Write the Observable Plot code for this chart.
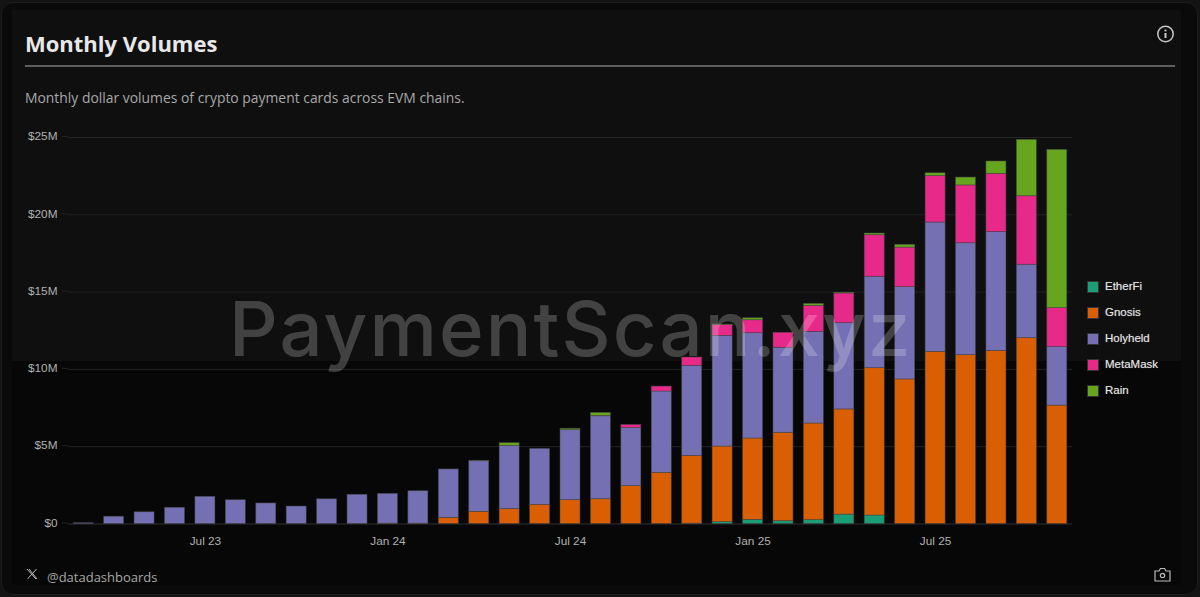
<!DOCTYPE html>
<html><head><meta charset="utf-8">
<script src="https://cdn.jsdelivr.net/npm/d3@7"></script>
<script src="https://cdn.jsdelivr.net/npm/@observablehq/plot@0.6"></script>
<style>
html,body{margin:0;padding:0;background:#131313;width:1200px;height:597px;overflow:hidden}
#card{position:absolute;left:0;top:0;width:1200px;height:597px;overflow:hidden}
.abs{position:absolute}
#shell{left:1px;top:2px;width:1197px;height:593px;background:#0a0a0a;border-radius:12px;border:1px solid #1d1d1d;box-sizing:border-box}
#upper{left:12px;top:10px;width:1169px;height:351px;background:#0f0f10}
#lower{left:12px;top:361px;width:1169px;height:224px;background:#070707}
#title{left:25px;top:28px;font:700 22px "Open Sans",sans-serif;color:#e8e8e8;white-space:nowrap}
#rule{left:25px;top:65px;width:1150px;height:2px;background:#5e5e5e}
#sub{left:25px;top:88px;font:400 13.9px "Open Sans",sans-serif;color:#a8a8a8;white-space:nowrap}
#chart{left:0;top:0}
#mark{left:229px;top:282px;font:500 76px Inter,sans-serif;letter-spacing:2.1px;color:#fff;opacity:.21;white-space:nowrap;pointer-events:none}
#legend{left:1087px;top:280px;font:11.5px "Liberation Sans",sans-serif;color:#e4e4e4;text-shadow:0 0 1px #777}
#legend div{height:26px;line-height:13px;display:flex;align-items:flex-start;white-space:nowrap}
#legend i{display:inline-block;width:10px;height:10px;margin:1px 6px 0 0;border:1px solid #333;box-sizing:content-box}
#handle{left:47px;top:568px;font:400 13px "Open Sans",sans-serif;color:#a8a8a8;white-space:nowrap}
</style></head><body>
<div id="card">
  <div class="abs" id="shell"></div>
  <div class="abs" id="upper"></div>
  <div class="abs" id="lower"></div>
  <div class="abs" id="title">Monthly Volumes</div>
  <div class="abs" id="rule"></div>
  <div class="abs" id="sub">Monthly dollar volumes of crypto payment cards across EVM chains.</div>
  <svg class="abs" style="left:1156px;top:25px" width="19" height="19" viewBox="0 0 19 19" fill="none" stroke="#c8c8c8">
    <circle cx="9.5" cy="9" r="7.7" stroke-width="1.5"/><path d="M9.5 8v5" stroke-width="2"/><path d="M9.5 4.6v1.8" stroke-width="2"/>
  </svg>
  <div class="abs" id="chart"></div>
  <div class="abs" id="mark">PaymentScan.xyz</div>
  <div class="abs" id="legend"></div>
  <svg class="abs" style="left:26px;top:568px" width="12" height="12" viewBox="0 0 12 12" fill="none" stroke="#bbb" stroke-width="1">
    <path d="M1 1l9 10M10.5 1L1.5 11M3 1l8 10"/>
  </svg>
  <div class="abs" id="handle">@datadashboards</div>
  <svg class="abs" style="left:1154px;top:567px" width="17" height="15" viewBox="0 0 17 15" fill="none" stroke="#bbb" stroke-width="1.2">
    <path d="M1 4h4l1.5-2.5h4L12 4h4v10H1z"/><circle cx="8.5" cy="8.5" r="2.2"/>
  </svg>
</div>
<script>
const months = ["Mar 23","Apr 23","May 23","Jun 23","Jul 23","Aug 23","Sep 23","Oct 23","Nov 23","Dec 23",
  "Jan 24","Feb 24","Mar 24","Apr 24","May 24","Jun 24","Jul 24","Aug 24","Sep 24","Oct 24","Nov 24","Dec 24",
  "Jan 25","Feb 25","Mar 25","Apr 25","May 25","Jun 25","Jul 25","Aug 25","Sep 25","Oct 25","Nov 25"];
const tickLabels = ["Jul 23","Jan 24","Jul 24","Jan 25","Jul 25"];
const seriesNames = ["EtherFi","Gnosis","Holyheld","MetaMask","Rain"];
const seriesColors = ["#1b9e77","#d95f02","#7570b3","#e7298a","#66a61e"];
const etherFi = [0,0,0,0,0,0,0,0,0,0,0,0,0,0,0,0,0,0,0,0,0.02,0.12,0.27,0.18,0.25,0.61,0.55,0,0,0,0,0,0];
const gnosis = [0,0,0,0,0,0,0,0,0,0,0.02,0.02,0.4,0.79,0.96,1.24,1.54,1.6,2.45,3.31,4.39,4.89,5.26,5.72,6.25,6.8,9.53,9.35,11.14,10.92,11.2,12.02,7.66];
const holyheld = [0.05,0.47,0.76,1.05,1.76,1.54,1.33,1.13,1.6,1.89,1.93,2.1,3.13,3.27,4.1,3.62,4.53,5.37,3.75,5.26,5.82,7.16,6.81,5.5,5.93,5.58,5.91,5.97,8.36,7.24,7.68,4.75,3.78];
const metaMask = [0,0,0,0,0,0,0,0,0,0,0,0,0,0,0,0,0,0.02,0.21,0.32,0.54,0.7,0.84,0.97,1.68,1.92,2.69,2.56,3.0,3.74,3.77,4.43,2.52];
const rain = [0,0,0,0,0,0,0,0,0,0,0,0,0,0.03,0.17,0,0.09,0.2,0,0,0,0.03,0.13,0,0.13,0.05,0.11,0.18,0.19,0.51,0.8,3.65,10.24];
const seriesValues = [etherFi,gnosis,holyheld,metaMask,rain];
const yTicks = [0,5,10,15,20,25];

const rows = seriesNames.flatMap((s,i)=>months.map((m,j)=>({month:m,series:s,value:seriesValues[i][j]}))).filter(d=>d.value>0);

const plot = Plot.plot({
  width:1200, height:597,
  marginLeft:68, marginRight:128, marginTop:137, marginBottom:73.5,
  style:{background:"transparent",color:"#b0b0b0",fontFamily:"'Liberation Sans',sans-serif",fontSize:"12px"},
  x:{type:"band",domain:months,round:false,paddingInner:0.343,paddingOuter:0.1715,label:null},
  y:{domain:[0,25],label:null},
  color:{domain:seriesNames,range:seriesColors},
  marks:[
    Plot.gridY(yTicks,{stroke:"#232323",strokeOpacity:1,strokeWidth:1}),
    Plot.ruleY([0],{stroke:"#232323"}),
    Plot.barY(rows,{x:"month",y:"value",fill:"series",order:seriesNames,stroke:"#444",strokeWidth:0.7,strokeOpacity:0.7}),
    Plot.axisY({ticks:yTicks,tickFormat:d=>`$${d}${d?"M":""}`,tickSize:6,stroke:"#222",tickPadding:5,fill:"#b0b0b0",fontSize:11.8,dy:-1}),
    Plot.axisX({ticks:tickLabels,tickSize:0,tickPadding:13,fill:"#b0b0b0",fontSize:11.8})
  ]
});
document.getElementById("chart").appendChild(plot);
document.getElementById("legend").innerHTML = seriesNames.map((s,i)=>`<div><i style="background:${seriesColors[i]}"></i>${s}</div>`).join("");
</script>
</body></html>
